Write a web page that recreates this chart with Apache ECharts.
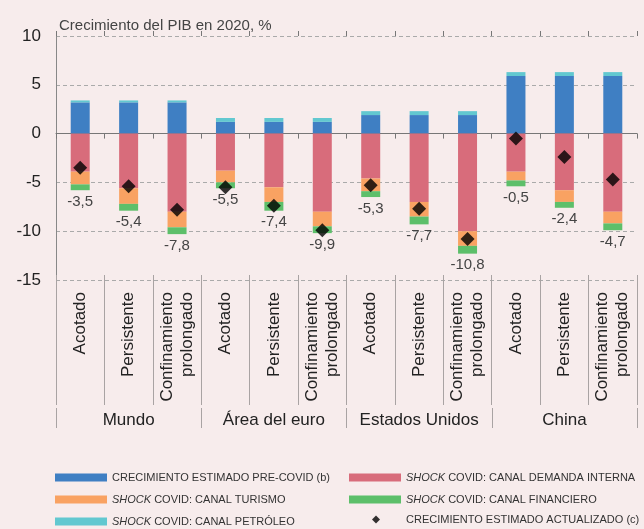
<!DOCTYPE html>
<html>
<head>
<meta charset="utf-8">
<script src="https://cdn.jsdelivr.net/npm/echarts@6/dist/echarts.min.js"></script>
<style>
  html, body { margin: 0; padding: 0; background: #f7ecec; }
  #chart { width: 644px; height: 529px; }
</style>
</head>
<body>
<div id="chart"></div>
<script>
// categories
const escenarios = ['Acotado', 'Persistente', 'Confinamiento\nprolongado'];
const regiones = ['Mundo', 'Área del euro', 'Estados Unidos', 'China'];
const categorias = regiones.flatMap(() => escenarios);

// series values (% growth)
const preCovid   = [3.2, 3.2, 3.2, 1.2, 1.2, 1.2, 1.9, 1.9, 1.9, 5.9, 5.9, 5.9];
const petroleo   = [0.2, 0.2, 0.2, 0.4, 0.4, 0.4, 0.4, 0.4, 0.4, 0.4, 0.4, 0.4];
const demanda    = [-3.9, -5.6, -8.0, -3.8, -5.5, -8.0, -4.6, -7.0, -10.0, -3.9, -5.8, -8.0];
const turismo    = [-1.3, -1.6, -1.6, -1.2, -1.5, -1.5, -1.3, -1.5, -1.5, -0.9, -1.2, -1.2];
const financiero = [-0.6, -0.7, -0.7, -0.6, -0.9, -0.7, -0.6, -0.8, -0.8, -0.6, -0.6, -0.7];
const actualizado = [-3.5, -5.4, -7.8, -5.5, -7.4, -9.9, -5.3, -7.7, -10.8, -0.5, -2.4, -4.7];

// y axis ticks
const yMin = -15, yMax = 10, yStep = 5;

const N_PRE = 'CRECIMIENTO ESTIMADO PRE-COVID (b)';
const N_DEM = 'SHOCK COVID: CANAL DEMANDA INTERNA';
const N_TUR = 'SHOCK COVID: CANAL TURISMO';
const N_FIN = 'SHOCK COVID: CANAL FINANCIERO';
const N_PET = 'SHOCK COVID: CANAL PETRÓLEO';
const N_ACT = 'CRECIMIENTO ESTIMADO ACTUALIZADO (c)';

const FONT = "'Liberation Sans', Arial, sans-serif";
const fmt = v => v.toFixed(1).replace('.', ',');

const chart = echarts.init(document.getElementById('chart'));

const legendText = {
    fontFamily: FONT, fontSize: 11, color: '#333',
    rich: {
        i: { fontFamily: FONT, fontSize: 11, color: '#333', fontStyle: 'italic' },
        gap: { width: 21 }
    }
};
const legendFmt = name => name.startsWith('SHOCK ') ? '{i|SHOCK} ' + name.slice(6) : name;

// one legend per item so the two columns line up
const legendItem = (item, left, top) => ({
    left, top, itemWidth: 52, itemHeight: 8, icon: 'rect', selectedMode: false,
    padding: 0, data: [item], formatter: legendFmt, textStyle: legendText
});

const barBase = { type: 'bar', stack: 'total', barWidth: 19, xAxisIndex: 0, yAxisIndex: 0 };

chart.setOption({
    backgroundColor: '#f7ecec',
    animation: false,
    textStyle: { fontFamily: FONT },
    title: {
        text: 'Crecimiento del PIB en 2020, %',
        left: 54, top: 13,
        textStyle: { fontFamily: FONT, fontSize: 15, fontWeight: 'normal', color: '#444' }
    },
    grid: { left: 56, right: 7, top: 36, bottom: 249, outerBoundsMode: 'none' },
    legend: [
        legendItem(N_PRE, 55, 472),
        legendItem(N_TUR, 55, 494),
        legendItem(N_PET, 55, 516),
        legendItem(N_DEM, 349, 472),
        legendItem(N_FIN, 349, 494),
        {
            ...legendItem({ name: N_ACT, icon: 'diamond' }, 372, 514),
            itemWidth: 8, itemHeight: 8,
            formatter: name => '{gap|}' + name
        }
    ],
    xAxis: [
        {   // zero line with ticks below
            type: 'category', data: categorias, position: 'bottom',
            axisLine: { show: true, onZero: true, lineStyle: { color: '#777', width: 1 } },
            axisTick: { show: true, interval: 0, length: 5, lineStyle: { color: '#777' } },
            axisLabel: { show: false, interval: 0 }
        },
        {   // ticks above the zero line
            type: 'category', data: categorias, position: 'top',
            axisLine: { show: true, onZero: true, lineStyle: { color: '#777', opacity: 0 } },
            axisTick: { show: true, interval: 0, length: 5, lineStyle: { color: '#777', opacity: 1 } },
            axisLabel: { show: false, interval: 0 }
        },
        {   // scenario labels
            type: 'category', data: categorias, position: 'bottom', offset: -5,
            axisLine: { show: false, onZero: false },
            axisTick: { show: true, interval: 0, length: 130, lineStyle: { color: '#a9a3a3' } },
            axisLabel: { rotate: 90, margin: 17, fontSize: 17, lineHeight: 20, color: '#222', interval: 0 }
        },
        {   // region labels
            type: 'category', data: regiones, position: 'bottom', offset: 128,
            axisLine: { show: false, onZero: false },
            axisTick: { show: true, interval: 0, length: 20, lineStyle: { color: '#a9a3a3' } },
            axisLabel: { margin: 4, fontSize: 17, color: '#222', interval: 0 }
        }
    ],
    yAxis: {
        type: 'value', min: yMin, max: yMax, interval: yStep,
        axisLine: { show: true, lineStyle: { color: '#888' } },
        axisTick: { show: false },
        axisLabel: { fontSize: 17, color: '#222', margin: 15 },
        splitLine: { lineStyle: { color: '#aaa', type: [4, 3] } }
    },
    series: [
        { ...barBase, name: N_PRE, data: preCovid, itemStyle: { color: '#3f7fc3' } },
        { ...barBase, name: N_DEM, data: demanda, itemStyle: { color: '#d86c7b' } },
        { ...barBase, name: N_TUR, data: turismo, itemStyle: { color: '#f9a262' } },
        {
            ...barBase, name: N_FIN, data: financiero, itemStyle: { color: '#5dbf6a' },
            label: {
                show: true, position: 'bottom', distance: 4,
                fontSize: 15, color: '#444',
                formatter: p => fmt(actualizado[p.dataIndex])
            }
        },
        { ...barBase, name: N_PET, data: petroleo, itemStyle: { color: '#62c8d0' } },
        {
            type: 'scatter', name: N_ACT, data: actualizado, xAxisIndex: 0, yAxisIndex: 0,
            symbol: 'diamond', symbolSize: 14, z: 10,
            itemStyle: { color: '#000' }
        }
    ]
});
</script>
</body>
</html>
